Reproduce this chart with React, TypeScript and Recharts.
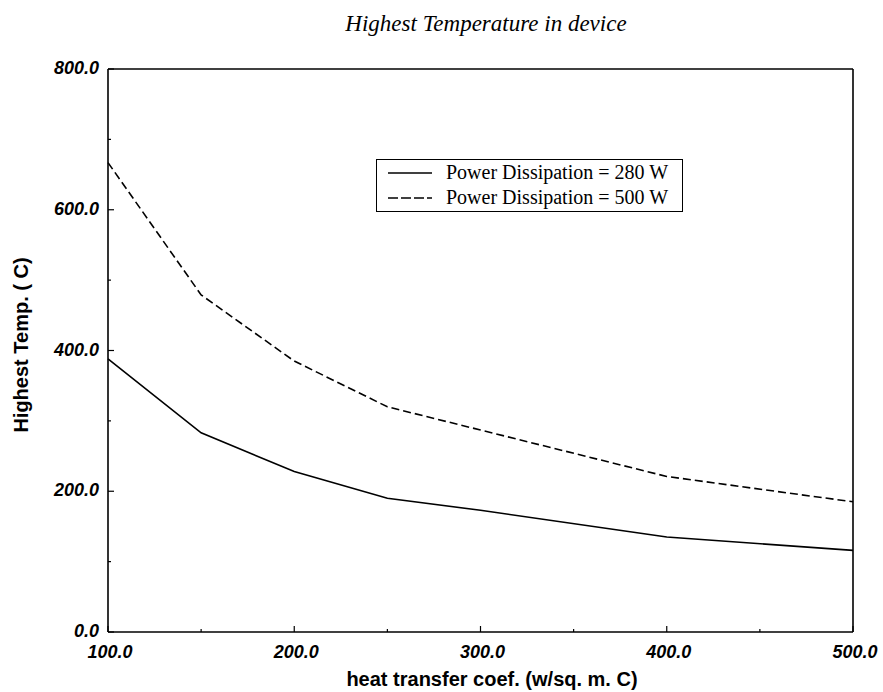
import React from "react";
import {
  LineChart,
  Line,
  XAxis,
  YAxis,
  Legend,
  Label,
  ReferenceLine,
} from "recharts";

// Chart data
const heatCoef = [100, 150, 200, 250, 300, 400, 500];
const temp280 = [388, 283, 228, 190, 173, 135, 116];
const temp500 = [667, 479, 385, 320, 287, 221, 185];

const xTicks = [100, 150, 200, 250, 300, 350, 400, 450, 500];
const yTicks = [0, 100, 200, 300, 400, 500, 600, 700, 800];

const seriesNames = ["Power Dissipation = 280 W", "Power Dissipation = 500 W"];

const data = heatCoef.map((h, i) => ({
  h,
  p280: temp280[i],
  p500: temp500[i],
}));

const sans = "'Liberation Sans', Arial, sans-serif";
const serif = "'Liberation Serif', 'Times New Roman', serif";

const XTick = (props: any) => {
  const { x, y, payload } = props;
  const v = payload.value;
  const major = v % 100 === 0;
  return (
    <g>
      <line x1={x} y1={y} x2={x} y2={y - (major ? 6 : 3)} stroke="#000" strokeWidth={1.2} />
      {major && (
        <text
          x={x + 2}
          y={y + 20}
          textAnchor="middle"
          dominantBaseline="central"
          fontFamily={sans}
          fontWeight="bold"
          fontStyle="italic"
          fontSize={18}
          fill="#000"
        >
          {v.toFixed(1)}
        </text>
      )}
    </g>
  );
};

const YTick = (props: any) => {
  const { x, y, payload } = props;
  const v = payload.value;
  const major = v % 200 === 0;
  return (
    <g>
      <line x1={x} y1={y} x2={x + (major ? 6 : 3)} y2={y} stroke="#000" strokeWidth={1.2} />
      {major && (
        <text
          x={x - 9}
          y={y - 1}
          textAnchor="end"
          dominantBaseline="central"
          fontFamily={sans}
          fontWeight="bold"
          fontStyle="italic"
          fontSize={18}
          fill="#000"
        >
          {v.toFixed(1)}
        </text>
      )}
    </g>
  );
};

const RightTick = (props: any) => {
  const { x, y, payload } = props;
  const major = payload.value % 200 === 0;
  return <line x1={x} y1={y} x2={x - (major ? 6 : 3)} y2={y} stroke="#000" strokeWidth={1.2} />;
};

const LegendBox = () => (
  <div
    style={{
      border: "1.5px solid #000",
      width: 307,
      height: 53,
      boxSizing: "border-box",
      padding: "0 0 0 11px",
      fontFamily: serif,
      fontSize: 20,
      lineHeight: "25px",
      background: "#fff",
    }}
  >
    {seriesNames.map((name, i) => (
      <div key={name} style={{ display: "flex", alignItems: "center", height: 25 }}>
        <svg width={44} height={10} style={{ marginRight: 14 }}>
          <line
            x1={0}
            y1={5}
            x2={44}
            y2={5}
            stroke="#000"
            strokeWidth={1.3}
            strokeDasharray={i === 1 ? "10 3" : undefined}
          />
        </svg>
        <span>{name}</span>
      </div>
    ))}
  </div>
);

export default function App() {
  return (
    <div style={{ position: "absolute", left: 0, top: 0, width: 883, height: 692, background: "#fff" }}>
      <div
        style={{
          position: "absolute",
          left: 0,
          top: 11,
          width: 972,
          textAlign: "center",
          fontFamily: serif,
          fontStyle: "italic",
          fontSize: 23,
        }}
      >
        Highest Temperature in device
      </div>
      <LineChart
        width={883}
        height={692}
        data={data}
        margin={{ top: 69, right: 0, left: 0, bottom: 0 }}
      >
        <XAxis
          dataKey="h"
          type="number"
          domain={[100, 500]}
          ticks={xTicks}
          interval={0}
          height={60}
          tickSize={0}
          tickMargin={0}
          tickLine={false}
          tick={<XTick />}
          axisLine={{ stroke: "#000", strokeWidth: 1.6 }}
        >
          <Label
            content={() => (
              <text
                x={492}
                y={679}
                textAnchor="middle"
                dominantBaseline="central"
                fontFamily={sans}
                fontWeight="bold"
                fontSize={20}
                fill="#000"
              >
                heat transfer coef. (w/sq. m. C)
              </text>
            )}
          />
        </XAxis>
        <YAxis
          type="number"
          domain={[0, 800]}
          ticks={yTicks}
          interval={0}
          width={108}
          tickSize={0}
          tickMargin={0}
          tickLine={false}
          tick={<YTick />}
          axisLine={{ stroke: "#000", strokeWidth: 1.6 }}
        >
          <Label
            content={() => (
              <text
                x={21}
                y={345}
                transform="rotate(-90 21 345)"
                textAnchor="middle"
                dominantBaseline="central"
                fontFamily={sans}
                fontWeight="bold"
                fontSize={20}
                fill="#000"
              >
                Highest Temp. ( C)
              </text>
            )}
          />
        </YAxis>
        <YAxis
          yAxisId="right"
          orientation="right"
          type="number"
          domain={[0, 800]}
          ticks={yTicks}
          interval={0}
          width={30}
          tickSize={0}
          tickMargin={0}
          tickLine={false}
          tick={<RightTick />}
          axisLine={{ stroke: "#000", strokeWidth: 1.6 }}
        />
        <ReferenceLine y={800} stroke="#000" strokeWidth={1.6} />
        <Legend
          layout="vertical"
          align="center"
          verticalAlign="middle"
          content={<LegendBox />}
          wrapperStyle={{ left: 376, top: 159, width: "auto" }}
        />
        <Line
          type="linear"
          dataKey="p280"
          stroke="#000"
          strokeWidth={1.6}
          dot={false}
          isAnimationActive={false}
        />
        <Line
          type="linear"
          dataKey="p500"
          stroke="#000"
          strokeWidth={1.6}
          strokeDasharray="8 4"
          dot={false}
          isAnimationActive={false}
        />
      </LineChart>
    </div>
  );
}
